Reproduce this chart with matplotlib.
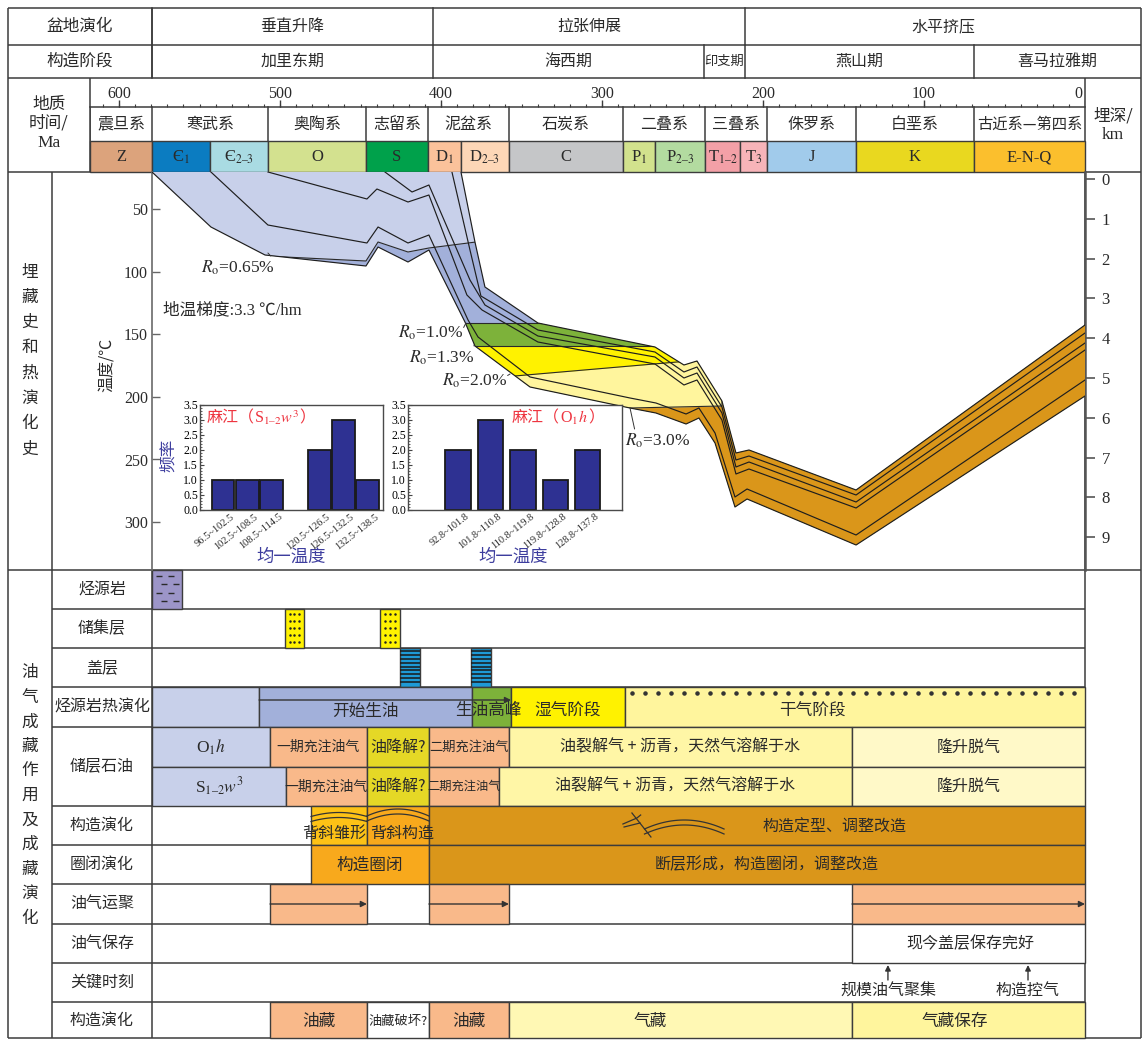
import numpy as np
import matplotlib
matplotlib.use("Agg")
import matplotlib.pyplot as plt
from matplotlib.patches import Rectangle, Polygon

# ------------------------------------------------------------------ fonts
CJK = ['Noto Sans CJK SC', 'DejaVu Sans']
SER = ['Liberation Serif', 'Noto Sans CJK SC', 'DejaVu Sans']
plt.rcParams['font.family'] = CJK
plt.rcParams['mathtext.fontset'] = 'stix'
plt.rcParams['axes.unicode_minus'] = False

# ------------------------------------------------------------------ data
# basin evolution / tectonic stages (start age, Ma)
basin_names = ["垂直升降", "拉张伸展", "水平挤压"]
basin_start = [579.5, 405.0, 211.2]
stage_names = ["加里东期", "海西期", "印支期", "燕山期", "喜马拉雅期"]
stage_start = [579.5, 405.0, 236.6, 211.2, 68.9]

# stratigraphic systems and periods (start age, Ma)
system_names = ["震旦系", "寒武系", "奥陶系", "志留系", "泥盆系", "石炭系",
                "二叠系", "三叠系", "侏罗系", "白垩系", "古近系—第四系"]
system_start = [618.0, 579.5, 507.5, 446.6, 408.1, 357.8, 287.0, 236.0, 197.5, 142.2, 68.9]
period_labels = ["Z", "Є$_1$", "Є$_{2–3}$", "O", "S", "D$_1$", "D$_{2–3}$", "C",
                 "P$_1$", "P$_{2–3}$", "T$_{1–2}$", "T$_3$", "J", "K", "E-N-Q"]
period_start = [618.0, 579.5, 543.5, 507.5, 446.6, 408.1, 387.6, 357.8,
                287.0, 267.1, 236.0, 214.3, 197.5, 142.2, 68.9]
period_colors = ['#dca37c', '#0b7cc1', '#a9dbe3', '#d3e18f', '#00a14b', '#fbc29b',
                 '#fdd7b7', '#c5c6c8', '#d2e28d', '#b3dba0', '#f3a0a7', '#f7b4b9',
                 '#a1cbeb', '#e9d81f', '#fbbf2d']
time_major = [600, 500, 400, 300, 200, 100, 0]

# burial history horizons: age (Ma) vs temperature (°C)
h_base_age = [579.5, 542.9, 509.3, 446.6, 439.1, 420.5, 407.5, 385.1, 378.9, 344.7,
              282.6, 266.5, 247.8, 239.8, 229.8, 217.4, 209.9, 142.2, 0.0]
h_base_T = [20.0, 64.0, 86.4, 95.2, 80.0, 92.0, 82.4, 140.0, 159.2, 192.0,
            208.8, 212.8, 221.6, 216.8, 236.8, 288.0, 281.6, 318.4, 199.2]
h_l5_age = [542.9, 507.5, 446.0, 439.1, 420.5, 407.5, 383.2, 377.0, 344.7, 282.6,
            266.5, 247.8, 239.8, 229.8, 217.4, 209.9, 142.2, 0.0]
h_l5_T = [20.0, 62.4, 76.8, 64.0, 76.8, 70.4, 138.4, 152.0, 184.0, 200.8,
          204.8, 213.6, 208.8, 228.8, 280.0, 273.6, 310.4, 186.4]
h_l4_age = [507.5, 446.0, 439.8, 420.5, 407.5, 383.9, 374.5, 339.8, 267.1, 249.1,
            241.0, 225.5, 216.8, 208.7, 142.2, 0.0]
h_l4_T = [20.0, 41.6, 33.6, 44.0, 38.4, 118.4, 130.4, 156.0, 173.6, 190.4,
          186.4, 218.4, 261.6, 257.6, 288.8, 162.4]
h_l3_age = [434.8, 418.0, 407.5, 382.0, 372.7, 339.8, 267.1, 249.1, 241.0, 225.5,
            216.8, 208.7, 142.2, 0.0]
h_l3_T = [20.0, 36.0, 30.4, 106.4, 126.4, 151.2, 168.0, 184.8, 180.8, 212.8,
          256.0, 252.0, 284.0, 156.8]
h_l2_age = [393.2, 382.0, 375.2, 339.8, 267.1, 249.1, 241.0, 225.5, 216.8, 208.7, 142.2, 0.0]
h_l2_T = [20.0, 82.4, 119.2, 146.4, 164.0, 180.0, 176.0, 208.0, 250.4, 247.2, 278.4, 148.8]
h_top_age = [387.6, 378.9, 372.7, 339.8, 267.1, 249.1, 241.0, 225.5, 216.8, 208.7, 142.2, 0.0]
h_top_T = [20.0, 76.0, 112.0, 140.8, 160.0, 174.4, 171.2, 203.2, 244.8, 242.4, 274.4, 142.4]

# vitrinite reflectance (Ro) iso-lines: age (Ma) vs temperature (°C)
ro_065_age = [600.0, 509.3, 446.6, 439.1, 420.5, 407.5, 378.3, 0.0]
ro_065_T = [98.4, 87.2, 91.2, 76.0, 84.0, 80.8, 76.0, 76.0]
ro_10_age = [620.0, 0.0]
ro_10_T = [140.8, 140.8]
ro_13_age = [620.0, 0.0]
ro_13_T = [159.2, 159.2]
ro_20_age = [620.0, 361.5, 253.4, 241.0, 0.0]
ro_20_T = [184.0, 184.0, 172.0, 171.2, 171.2]
ro_30_age = [620.0, 282.6, 225.5, 224.2, 0.0]
ro_30_T = [208.8, 208.8, 207.2, 122.4, 122.4]

# homogenisation temperature histograms
th_s_bins = ["96.5~102.5", "102.5~108.5", "108.5~114.5", "114.5~120.5",
             "120.5~126.5", "126.5~132.5", "132.5~138.5"]
th_s_freq = [1, 1, 1, 0, 2, 3, 1]
th_o_bins = ["92.8~101.8", "101.8~110.8", "110.8~119.8", "119.8~128.8", "128.8~137.8"]
th_o_freq = [2, 3, 2, 1, 2]

# petroleum system events (start / end, Ma)
src_start, src_end = [579.5], [560.9]
res_start, res_end = [496.9, 437.9], [485.1, 425.5]
seal_start, seal_end = [425.5, 381.4], [413.0, 369.0]
therm_start = [579.5, 513.0, 380.7, 356.5, 285.7]
therm_end = [513.0, 380.7, 356.5, 285.7, 0.0]
therm_label = ["", "开始生油", "生油高峰", "湿气阶段", "干气阶段"]
oil1_start = [579.5, 506.2, 446.0, 407.5, 357.8, 144.7]
oil1_end = [506.2, 446.0, 407.5, 357.8, 144.7, 0.0]
oil1_label = ["O$_1h$", "一期充注油气", "油降解?", "二期充注油气",
              "油裂解气 + 沥青，天然气溶解于水", "隆升脱气"]
oil2_start = [579.5, 496.3, 446.0, 407.5, 364.0, 144.7]
oil2_end = [496.3, 446.0, 407.5, 364.0, 144.7, 0.0]
oil2_label = ["S$_{1–2}w^3$", "一期充注油气", "油降解?", "二期充注油气",
              "油裂解气 + 沥青，天然气溶解于水", "隆升脱气"]
struct_start = [480.7, 446.0, 407.5]
struct_end = [446.0, 407.5, 0.0]
struct_label = ["背斜雏形", "背斜构造", "构造定型、调整改造"]
trap_start = [480.7, 407.5]
trap_end = [407.5, 0.0]
trap_label = ["构造圈闭", "断层形成，构造圈闭，调整改造"]
migr_start = [506.2, 407.5, 144.7]
migr_end = [446.0, 357.8, 0.0]
pres_start, pres_end = [144.7], [0.0]
pres_label = ["现今盖层保存完好"]
key_age = [122.4, 35.4]
key_label = ["规模油气聚集", "构造控气"]
pool_start = [506.2, 446.0, 407.5, 357.8, 144.7]
pool_end = [446.0, 407.5, 357.8, 144.7, 0.0]
pool_label = ["油藏", "油藏破坏?", "油藏", "气藏", "气藏保存"]

# ------------------------------------------------------------------ layout
W, H = 1148, 1041
PX_PER_MA = 1.61
XT0, XT1 = 90, 1085                     # time column in the figure
AGE_MAX = (XT1 - XT0) / PX_PER_MA       # age at the left edge of the time column
RIGHT_MA = -(1141 - XT1) / PX_PER_MA    # table right border expressed in Ma
INK = '#2a2a2a'
LINE = '#3c3c3c'
LW = 1.1

C_LAV, C_LAV2 = '#c8d0ea', '#a2b0da'
C_GREEN, C_YEL, C_LYEL, C_PYEL = '#7db23a', '#fff200', '#fff59d', '#fff9c8'
C_SALM, C_OLIVE = '#f9b98a', '#e5d826'
C_GOLD1, C_GOLD2, C_DKOR = '#fdc216', '#f8a91c', '#da961a'
C_RED, C_BLUE = '#ee3540', '#3d3d9e'

fig = plt.figure(figsize=(W / 100, H / 100), dpi=100)
fig.patch.set_facecolor('white')


def rect_px(x0, y0, x1, y1):
    return [x0 / W, 1 - y1 / H, (x1 - x0) / W, (y1 - y0) / H]


cv = fig.add_axes([0, 0, 1, 1], facecolor='none')
cv.set_xlim(0, W)
cv.set_ylim(H, 0)
cv.axis('off')

tx = fig.add_axes(rect_px(XT0, 0, XT1, H), facecolor='none')
tx.set_xlim(AGE_MAX, 0)
tx.set_ylim(H, 0)
tx.axis('off')


def ctext(x, y, s, size=11.5, fam=CJK, **kw):
    kw.setdefault('ha', 'center')
    kw.setdefault('va', 'center')
    kw.setdefault('color', INK)
    cv.text(x, y, s, fontsize=size, family=fam, **kw)


def ttext(a, y, s, size=11.5, fam=CJK, **kw):
    kw.setdefault('ha', 'center')
    kw.setdefault('va', 'center')
    kw.setdefault('color', INK)
    tx.text(a, y, s, fontsize=size, family=fam, clip_on=False, zorder=8, **kw)


def cell(a0, a1, y0, y1, fc, z=3):
    tx.add_patch(Rectangle((a0, y0), a1 - a0, y1 - y0, facecolor=fc,
                           edgecolor=LINE, lw=1.0, zorder=z, clip_on=False))


def hline(y, x0, x1):
    cv.plot([x0, x1], [y, y], color=LINE, lw=LW, solid_capstyle='butt')


def vline(x, y0, y1):
    cv.plot([x, x], [y0, y1], color=LINE, lw=LW, solid_capstyle='butt')


# ------------------------------------------------------------------ table frame
for y in (8, 45, 78, 172, 570, 1038):
    hline(y, 8, 1141)
for x in (8, 1141):
    vline(x, 8, 1038)
vline(152, 8, 78)
vline(XT0, 78, 172)
vline(XT1, 78, 1038)
vline(52, 172, 1038)
vline(152, 570, 1038)
for y in (609, 648, 687, 727, 806, 845, 884, 924, 963, 1002):
    hline(y, 52, XT1)
hline(767, 152, XT1)

ctext(80, 26.5, "盆地演化", 12)
ctext(80, 61.5, "构造阶段", 12)
ctext(49, 104, "地质", 12)
ctext(49, 123, "时间/", 12)
ctext(49, 143, "Ma", 12.5, SER)
ctext(1113, 116, "埋深/", 12)
ctext(1113, 135, "km", 12.5, SER)
for i, ch in enumerate("埋藏史和热演化史"):
    ctext(30, 272 + i * 25.3, ch, 12)
for i, ch in enumerate("油气成藏作用及成藏演化"):
    ctext(30, 673 + i * 24.5, ch, 12)
ctext(107, 365, "温度/℃", 11.5, rotation=90)

row_titles = [("烃源岩", 589.5), ("储集层", 628.5), ("盖层", 667.5), ("烃源岩热演化", 707),
              ("储层石油", 766.5), ("构造演化", 825.5), ("圈闭演化", 864.5), ("油气运聚", 904),
              ("油气保存", 943.5), ("关键时刻", 982.5), ("构造演化", 1020)]
for s, y in row_titles:
    ctext(102, y, s, 11.5)


# ------------------------------------------------------------------ header rows
def header_row(names, starts, y0, y1, sizes):
    ends = starts[1:] + [RIGHT_MA]
    for n, a0, a1, s in zip(names, starts, ends, sizes):
        tx.plot([a0, a0], [y0, y1], color=LINE, lw=LW, clip_on=False)
        ttext((a0 + a1) / 2, (y0 + y1) / 2, n, s)


header_row(basin_names, basin_start, 8, 45, [11.5] * 3)
header_row(stage_names, stage_start, 45, 78, [11.5, 11.5, 9.5, 11.5, 11.5])

# time axis
tx.plot([AGE_MAX, 0], [107, 107], color=LINE, lw=LW, clip_on=False)
tx.vlines(np.arange(610, 0, -10), 103.5, 107, color=LINE, lw=0.8)
tx.vlines(time_major, 100, 107, color=LINE, lw=1.0)
for t in time_major:
    if t == 0:
        tx.annotate("0", (t, 94), xytext=(-2, 0), textcoords='offset points',
                    ha='right', va='center', fontsize=11.5, family=SER, color=INK)
    else:
        ttext(t, 94, str(t), 11.5, SER)

sys_end = system_start[1:] + [0.0]
for n, a0, a1 in zip(system_names, system_start, sys_end):
    tx.plot([a0, a0], [107, 141], color=LINE, lw=LW)
    ttext((a0 + a1) / 2, 124, n, 11.5 if len(n) < 4 else 11)
per_end = period_start[1:] + [0.0]
for lab, a0, a1, c in zip(period_labels, period_start, per_end, period_colors):
    cell(a0, a1, 141, 172, c)
    ttext((a0 + a1) / 2, 157, lab, 12, SER)

# ------------------------------------------------------------------ burial history
bax = fig.add_axes(rect_px(152, 172, XT1, 570), facecolor='none')
bax.set_xlim(period_start[1], 0)
bax.set_ylim(338.4, 20.0)

env_xy = np.column_stack([np.r_[h_base_age, h_top_age[::-1]], np.r_[h_base_T, h_top_T[::-1]]])
env = Polygon(env_xy, closed=True, facecolor=C_LAV, edgecolor='none', zorder=1)
bax.add_patch(env)

zones = [(ro_065_age, ro_065_T, C_LAV2), (ro_10_age, ro_10_T, C_GREEN),
         (ro_13_age, ro_13_T, C_YEL), (ro_20_age, ro_20_T, C_LYEL),
         (ro_30_age, ro_30_T, C_DKOR)]
for i, (a, t, c) in enumerate(zones):
    f = bax.fill_between(a, t, 400, color=c, lw=0, zorder=2 + 2 * i)
    f.set_clip_path(env)
    ln, = bax.plot(a, t, color='#2a2a2a', lw=0.8, zorder=3 + 2 * i)
    ln.set_clip_path(env)

for a, t in [(h_base_age, h_base_T), (h_l5_age, h_l5_T), (h_l4_age, h_l4_T),
             (h_l3_age, h_l3_T), (h_l2_age, h_l2_T), (h_top_age, h_top_T)]:
    bax.plot(a, t, color='#1e1e1e', lw=0.85, zorder=20)

ro_notes = [("0.65", (507.5, 84.8), (526.0, 96.8), (1.0, 0.9)),
            ("1.0", (384.5, 140.8), (406.2, 148.8), (1.0, 0.8)),
            ("1.3", (379.5, 158.4), (399.4, 168.8), (1.0, 0.8)),
            ("2.0", (357.1, 181.6), (378.9, 187.2), (1.0, 0.8)),
            ("3.0", (282.6, 208.8), (265.2, 235.2), (0.15, 1.0))]
for v, xy, xyt, rp in ro_notes:
    bax.annotate(r"$R_{\rm o}$=" + v + "%", xy=xy, xytext=xyt, ha='center', va='center',
                 fontsize=12.5, family=SER, color=INK, zorder=30,
                 arrowprops=dict(arrowstyle='-', lw=0.7, color='#333', relpos=rp,
                                 shrinkA=0, shrinkB=0))
bax.text(572.7, 130.4, "地温梯度:3.3 ℃/hm", ha='left', va='center', fontsize=12,
         family=SER, color=INK)

temp_ticks = [50, 100, 150, 200, 250, 300]
bax.set_yticks(temp_ticks, labels=[str(t) for t in temp_ticks], fontsize=11.5, family=SER)
bax.tick_params(axis='y', direction='in', length=6, width=1.0, pad=3, color='#666',
                labelcolor=INK)
bax.set_xticks([])
for s in ('top', 'bottom', 'right'):
    bax.spines[s].set_visible(False)
bax.spines['left'].set_color('#6a6a6a')
bax.spines['left'].set_linewidth(1.2)


def t2d(t):
    return (np.asarray(t) - 25.6) / 31.84


def d2t(d):
    return 25.6 + 31.84 * np.asarray(d)


dax = bax.secondary_yaxis('right', functions=(t2d, d2t))
dax.set_yticks(range(10), labels=[str(d) for d in range(10)], fontsize=12, family=SER)
dax.tick_params(direction='out', length=7, width=1.2, pad=5, color='#555', labelcolor=INK)
dax.spines['right'].set_color('#555')
dax.spines['right'].set_linewidth(1.8)


# ------------------------------------------------------------------ histograms
def histogram(rect, bins, freq, width, xlim):
    ax = fig.add_axes(rect_px(*rect), facecolor='white', zorder=5)
    x = np.arange(len(freq))
    keep = [i for i, f in enumerate(freq) if f > 0]
    ax.bar(x[keep], np.array(freq)[keep], width=width, color='#2e3192',
           edgecolor='#1a1a1a', lw=1.3)
    ax.set_xlim(*xlim)
    ax.set_ylim(0, 3.5)
    yt = np.arange(0, 3.51, 0.5)
    ax.set_yticks(yt, labels=[f"{v:.1f}" for v in yt], fontsize=8.5, family=SER)
    ax.set_yticks(np.arange(0, 3.51, 0.1), minor=True)
    ax.set_xticks(x[keep], labels=[])
    # slanted bin labels, ending just right of each bar centre
    for i in keep:
        ax.annotate(bins[i], xy=(x[i], 0), xycoords=('data', 'axes fraction'),
                    xytext=(7, -4), textcoords='offset points', rotation=38,
                    rotation_mode='anchor', ha='right', va='center',
                    fontsize=7.5, family=SER, color=INK)
    ax.tick_params(axis='y', which='major', direction='in', length=3, pad=1.5, color='#444')
    ax.tick_params(axis='y', which='minor', direction='in', length=1.5, color='#444')
    ax.tick_params(axis='x', direction='in', length=0)
    for s in ax.spines.values():
        s.set_color('#4a4a4a')
        s.set_linewidth(1.0)
    return ax


def chained_title(ax, parts, x, y, ha):
    """Place CJK and math pieces of a title side by side."""
    fams = [CJK if '$' not in p else SER for p in parts]
    if ha == 'left':
        prev = ax.text(x, y, parts[0], transform=ax.transAxes, ha='left', va='center',
                       fontsize=11.5, family=fams[0], color=C_RED)
        for p, f in zip(parts[1:], fams[1:]):
            prev = ax.annotate(p, xy=(1, 0.5), xycoords=prev, ha='left', va='center',
                               fontsize=11.5, family=f, color=C_RED)
    else:
        prev = ax.text(x, y, parts[-1], transform=ax.transAxes, ha='right', va='center',
                       fontsize=11.5, family=fams[-1], color=C_RED)
        for p, f in zip(parts[-2::-1], fams[-2::-1]):
            prev = ax.annotate(p, xy=(0, 0.5), xycoords=prev, ha='right', va='center',
                               fontsize=11.5, family=f, color=C_RED)


h1 = histogram((200, 405, 383, 510), th_s_bins, th_s_freq, 0.94, (-0.96, 6.64))
h2 = histogram((408, 405, 622, 510), th_o_bins, th_o_freq, 0.79, (-1.55, 5.06))
chained_title(h1, ["麻江（", "S$_{1–2}w^{3}$", "）"], 0.035, 0.875, 'left')
chained_title(h2, ["麻江（", "O$_1h$", "）"], 0.915, 0.875, 'right')
ctext(168, 455, "频率", 12, rotation=90, color=C_BLUE)
ctext(291, 557, "均一温度", 12.5, color=C_BLUE)
ctext(513, 557, "均一温度", 12.5, color=C_BLUE)

# ------------------------------------------------------------------ event rows
# source rock
for a0, a1 in zip(src_start, src_end):
    cell(a0, a1, 570, 609, '#9c95c8')
    for j, y in enumerate(np.arange(575.5, 609, 8.5)):
        off = 0.18 if j % 2 else 0.0
        xs = [a0 + (f + off) * (a1 - a0) for f in (0.22, 0.62)]
        tx.scatter(xs, [y] * 2, marker='_', s=14, color='#2a2a2a', lw=1.0, zorder=6)
# reservoir
for a0, a1 in zip(res_start, res_end):
    cell(a0, a1, 609, 648, C_YEL)
    for y in np.arange(614, 646, 7):
        tx.scatter([a0 + f * (a1 - a0) for f in (0.25, 0.5, 0.75)], [y] * 3,
                   marker='.', s=2.5, color='#222', zorder=6)
# seal
for a0, a1 in zip(seal_start, seal_end):
    cell(a0, a1, 648, 687, '#1e9ad6')
    tx.hlines(np.arange(651, 686, 3.9), a0, a1, color='#1a1a1a', lw=1.1, zorder=6)

# thermal evolution of source rock
therm_colors = [C_LAV, C_LAV2, C_GREEN, C_YEL, C_LYEL]
therm_text_at = {2: 370.8, 4: 169.6}
for i, (a0, a1, c, s) in enumerate(zip(therm_start, therm_end, therm_colors, therm_label)):
    cell(a0, a1, 687, 727, c)
    if s:
        ttext(therm_text_at.get(i, (a0 + a1) / 2), 711, s, 12)
tx.annotate('', xy=(therm_end[2], 700), xytext=(therm_start[1], 700),
            arrowprops=dict(arrowstyle='-|>', color='#333', lw=1.0, mutation_scale=9,
                            shrinkA=0, shrinkB=0), zorder=7)
dot_a = np.arange(therm_start[4] - 4.3, 1.0, -8.07)
tx.scatter(dot_a, [693] * len(dot_a), s=5, color='#333', zorder=6)

# reservoir oil
oil_colors = [C_LAV, C_SALM, C_OLIVE, C_SALM, '#fff6a6', C_PYEL]
oil_sizes = [12, 10, 11.5, 9.5, 11.5, 11.5]
for (st, en, lab, y0, y1) in [(oil1_start, oil1_end, oil1_label, 727, 767),
                              (oil2_start, oil2_end, oil2_label, 767, 806)]:
    for i, (a0, a1, c, s) in enumerate(zip(st, en, oil_colors, lab)):
        cell(a0, a1, y0, y1, c)
        fam = SER if i == 0 else CJK
        sz = oil_sizes[i] if not (i == 3 and y0 == 767) else 8.8
        ttext((a0 + a1) / 2, (y0 + y1) / 2, s, 12.5 if i == 0 else sz, fam)


def arc(a0, a1, y_end, y_peak, lw=0.9):
    a = np.linspace(a0, a1, 30)
    u = (a - (a0 + a1) / 2) / ((a1 - a0) / 2)
    tx.plot(a, y_end - (y_end - y_peak) * (1 - u ** 2), color='#333', lw=lw, zorder=7)


# structural evolution
struct_colors = [C_GOLD1, C_GOLD2, C_DKOR]
for a0, a1, c in zip(struct_start, struct_end, struct_colors):
    cell(a0, a1, 806, 845, c)
ttext(466.5, 833, struct_label[0], 11.5)
ttext(424.2, 833, struct_label[1], 11.5)
ttext(155.3, 827, struct_label[2], 11.5)
arc(struct_start[0], struct_end[0], 816.5, 812.5)
arc(struct_start[0], struct_end[0], 821.5, 817.5)
arc(struct_start[1], struct_end[1], 816, 809)
arc(struct_start[1], struct_end[1], 821, 814)
# fold and fault sketch inside the late structural stage
arc(273.6, 224.2, 829, 820)
arc(273.6, 224.2, 834, 825)
tx.plot([281.4, 269.6], [813, 837], color='#333', lw=0.9, zorder=7)
tx.plot([287.0, 278.3, 276.0], [824, 818, 815], color='#333', lw=0.9, zorder=7)
tx.plot([286.3, 276.4], [827, 823], color='#333', lw=0.9, zorder=7)

# trap evolution
for a0, a1, c in zip(trap_start, trap_end, [C_GOLD2, C_DKOR]):
    cell(a0, a1, 845, 884, c)
ttext((trap_start[0] + trap_end[0]) / 2, 865, trap_label[0], 12)
ttext(197.5, 865, trap_label[1], 11.5)

# migration and accumulation
for a0, a1 in zip(migr_start, migr_end):
    cell(a0, a1, 884, 924, C_SALM)
    tx.annotate('', xy=(a1, 904), xytext=(a0, 904),
                arrowprops=dict(arrowstyle='-|>', color='#333', lw=1.0, mutation_scale=9,
                                shrinkA=0, shrinkB=0), zorder=7)

# preservation
for a0, a1, s in zip(pres_start, pres_end, pres_label):
    cell(a0, a1, 924, 963, 'white')
    ttext(71.4, 944, s, 11.5)

# key moments
for a, s in zip(key_age, key_label):
    tx.annotate('', xy=(a, 965), xytext=(a, 980),
                arrowprops=dict(arrowstyle='-|>', color='#333', lw=1.0, mutation_scale=8,
                                shrinkA=0, shrinkB=0), zorder=7)
    ttext(a, 991, s, 11.5)

# hydrocarbon pools
pool_colors = [C_SALM, 'white', C_SALM, '#fff8b4', C_LYEL]
pool_sizes = [12, 9.5, 12, 12, 12]
pool_text_at = {3: 270.2, 4: 80.7}
for i, (a0, a1, c, s) in enumerate(zip(pool_start, pool_end, pool_colors, pool_label)):
    cell(a0, a1, 1002, 1038, c)
    ttext(pool_text_at.get(i, (a0 + a1) / 2), 1021, s, pool_sizes[i])

fig.savefig("out.png", dpi=100, facecolor='white')
